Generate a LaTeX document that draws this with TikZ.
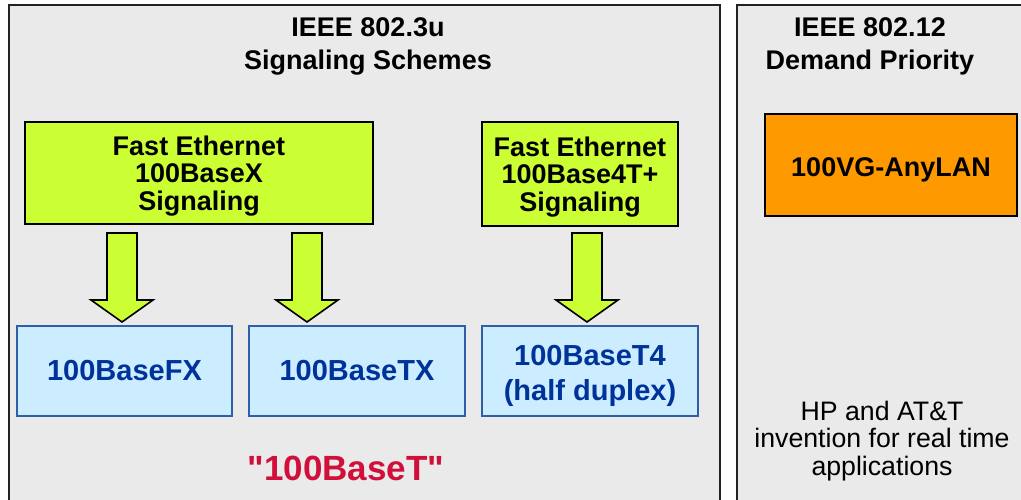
\documentclass[tikz,border=0pt]{standalone}
\usepackage{fontspec}
\setmainfont{Liberation Sans}[Ligatures=TeXOff]
\usetikzlibrary{calc}
\definecolor{panelgray}{RGB}{234,234,234}
\definecolor{panelline}{RGB}{34,34,34}
\definecolor{limegreen}{RGB}{204,255,51}
\definecolor{lightblue}{RGB}{204,236,255}
\definecolor{blueline}{RGB}{46,95,168}
\definecolor{bluetext}{RGB}{0,51,153}
\definecolor{redtext}{RGB}{208,16,58}
\definecolor{orangefill}{RGB}{255,153,0}
\tikzset{
  panel/.style={draw=panelline, line width=1.5pt, fill=panelgray},
  title/.style={font=\bfseries\fontsize{27}{33}\selectfont, align=center, inner sep=0pt},
  greenbox/.style={draw=black, line width=1.5pt, fill=limegreen, align=center, inner sep=0pt,
    font=\bfseries\fontsize{27}{27.5}\selectfont, minimum height=102pt},
  bluebox/.style={draw=blueline, line width=1.2pt, fill=lightblue, align=center, inner sep=0pt,
    text=bluetext, font=\bfseries\fontsize{29}{35}\selectfont, minimum width=216pt, minimum height=90pt},
  orangebox/.style={draw=black, line width=1.5pt, fill=orangefill, inner sep=0pt,
    font=\bfseries\fontsize{27}{33}\selectfont, minimum width=252pt, minimum height=102pt},
  redlabel/.style={text=redtext, font=\bfseries\fontsize{35}{40}\selectfont, inner sep=0pt},
  note/.style={font=\fontsize{26.7}{27.5}\selectfont, align=center, inner sep=0pt},
  blockarr/.style={draw=black, line width=1.6pt, fill=limegreen, line join=miter,
    to path={([xshift=-15pt]\tikztostart) -- ([xshift=-15pt,yshift=22pt]\tikztotarget)
      -- ([xshift=-31pt,yshift=22pt]\tikztotarget) -- (\tikztotarget)
      -- ([xshift=31pt,yshift=22pt]\tikztotarget) -- ([xshift=15pt,yshift=22pt]\tikztotarget)
      -- ([xshift=15pt]\tikztostart) -- cycle}}
}
\begin{document}
\begin{tikzpicture}[x=1pt,y=-1pt]
\useasboundingbox (0,0) rectangle (1021,499);
\fill[white] (0,0) rectangle (1021,499);
\begin{scope}
\clip (0,0) rectangle (1021,499);
\node[panel, anchor=north west, minimum width=711pt, minimum height=520pt, inner sep=0pt] (lp) at (8,4) {};
\node[panel, anchor=north west, minimum width=300pt, minimum height=520pt, inner sep=0pt] (rp) at (736,4) {};
\end{scope}
% titles
\node[title] (lt) at (368,46) {IEEE 802.3u\\Signaling Schemes};
\node[title] (rt) at (870,46) {IEEE 802.12\\Demand Priority};
% green boxes
\node[greenbox, minimum width=348pt] (g1) at (199,173) {\rule{0pt}{25.6pt}Fast Ethernet\\100BaseX\\Signaling};
\node[greenbox, minimum width=196pt, minimum height=104pt] (g2) at (580,174) {\rule{0pt}{25.6pt}Fast Ethernet\\100Base4T+\\Signaling};
% blue boxes
\node[bluebox, minimum width=215pt] (b1) at (124.5,371) {100BaseFX};
\node[bluebox] (b2) at (357,371) {100BaseTX};
\node[bluebox] (b3) at (590,371) {\rule{0pt}{29.5pt}100BaseT4\\(half duplex)};
% arrows
\coordinate (a1s) at (122,233); \coordinate (a1e) at (122,322);
\coordinate (a2s) at (307,233); \coordinate (a2e) at (307,322);
\coordinate (a3s) at (587,233); \coordinate (a3e) at (587,322);
\draw[blockarr] (a1s) to (a1e);
\draw[blockarr] (a2s) to (a2e);
\draw[blockarr] (a3s) to (a3e);
% orange
\node[orangebox] (o1) at (891,165) {\rule{0pt}{29pt}100VG-AnyLAN};
% labels
\node[redlabel] (r1) at (346,468) {"100BaseT"};
\node[note] (n1) at (882,441) {HP and AT\&T\\invention for real time\\applications};
\end{tikzpicture}
\end{document}
